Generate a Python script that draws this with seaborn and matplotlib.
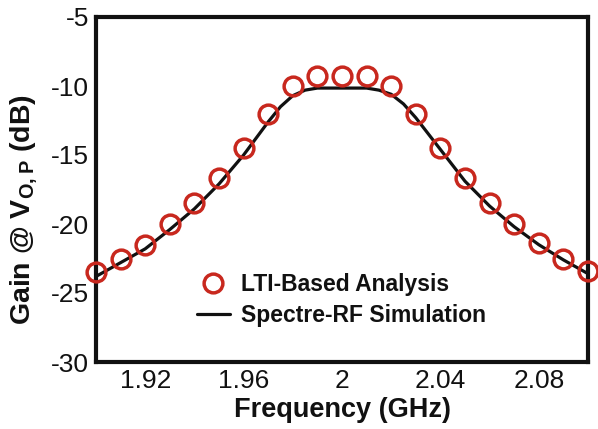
import matplotlib
matplotlib.use("Agg")
import matplotlib.pyplot as plt
import seaborn as sns
import pandas as pd

# LTI-based analysis (markers)
lti_freq = [1.90, 1.91, 1.92, 1.93, 1.94, 1.95, 1.96, 1.97, 1.98, 1.99, 2.00,
            2.01, 2.02, 2.03, 2.04, 2.05, 2.06, 2.07, 2.08, 2.09, 2.10]
lti_gain = [-23.5, -22.5, -21.5, -20.0, -18.5, -16.7, -14.5, -12.0, -10.0, -9.3, -9.3,
            -9.25, -10.0, -12.0, -14.5, -16.7, -18.5, -20.0, -21.4, -22.5, -23.4]

# Spectre-RF simulation (line)
sim_freq = [1.900, 1.910, 1.920, 1.930, 1.940, 1.950, 1.960, 1.970, 1.975, 1.980,
            1.985, 1.990, 2.000, 2.010, 2.015, 2.020, 2.025, 2.030, 2.040, 2.050,
            2.060, 2.070, 2.080, 2.090, 2.100]
sim_gain = [-23.8, -22.8, -21.8, -20.4, -18.9, -17.1, -15.0, -12.6, -11.5, -10.7,
            -10.3, -10.15, -10.15, -10.15, -10.3, -10.6, -11.3, -12.3, -14.6, -16.9,
            -18.7, -20.2, -21.5, -22.6, -23.6]

x_ticks = [1.92, 1.96, 2.00, 2.04, 2.08]
x_tick_labels = ["1.92", "1.96", "2", "2.04", "2.08"]
y_ticks = [-30, -25, -20, -15, -10, -5]
y_tick_labels = ["-30", "-25", "-20", "-15", "-10", "-5"]

sns.set_style("white")
FONT = 'Liberation Sans'
plt.rcParams['font.family'] = [FONT, 'DejaVu Sans']
plt.rcParams['axes.unicode_minus'] = False
plt.rcParams['mathtext.fontset'] = 'custom'
plt.rcParams['mathtext.rm'] = FONT
plt.rcParams['mathtext.bf'] = FONT + ':bold'

fig = plt.figure(figsize=(5.98, 4.29), dpi=100)
ax = fig.add_axes([96/598, (429-362)/429, (588-96)/598, (362-17)/429])

df_sim = pd.DataFrame({"f": sim_freq, "g": sim_gain})
df_lti = pd.DataFrame({"f": lti_freq, "g": lti_gain})

red = "#c8281e"
sns.lineplot(data=df_sim, x="f", y="g", ax=ax, color="#111111", lw=2.3,
             label="Spectre-RF Simulation", zorder=2)
ax.plot(df_lti["f"], df_lti["g"], ls="none", marker="o", ms=13.5,
        mfc="none", mec=red, mew=2.5, label="LTI-Based Analysis", zorder=3,
        clip_on=False)

ax.set_xlim(1.90, 2.10)
ax.set_ylim(-30, -5)
ax.set_xticks(x_ticks)
ax.set_xticklabels(x_tick_labels)
ax.set_xticks([1.94, 1.98, 2.02, 2.06], minor=True)
ax.set_yticks(y_ticks)
ax.set_yticklabels(y_tick_labels)
ax.tick_params(axis='both', which='both', direction='in', length=5, width=1,
               labelsize=19, color="#111111", labelcolor="#111111")
ax.tick_params(axis='x', pad=5)
ax.tick_params(axis='y', pad=5)
for s in ax.spines.values():
    s.set_linewidth(3.0)
    s.set_color("#111111")

ax.set_xlabel("Frequency (GHz)", fontsize=19.5, fontweight='bold',
              color="#111111")
ax.set_ylabel(r"Gain @ V$_{\mathbf{O,P}}$ (dB)", fontsize=20.5, fontweight='bold',
              color="#111111")
ax.xaxis.set_label_coords(0.5, -0.101)
ax.yaxis.set_label_coords(-0.113, 0.443)

handles, labels = ax.get_legend_handles_labels()
order = [labels.index("LTI-Based Analysis"), labels.index("Spectre-RF Simulation")]
leg = ax.legend([handles[i] for i in order], [labels[i] for i in order],
                loc='lower left', bbox_to_anchor=(0.186, 0.075), frameon=False,
                borderaxespad=0, prop={'weight': 'bold', 'size': 16.5},
                handlelength=1.45, handletextpad=0.5, labelspacing=0.36)
for t in leg.get_texts():
    t.set_color("#111111")

fig.savefig("out.png", dpi=100)
